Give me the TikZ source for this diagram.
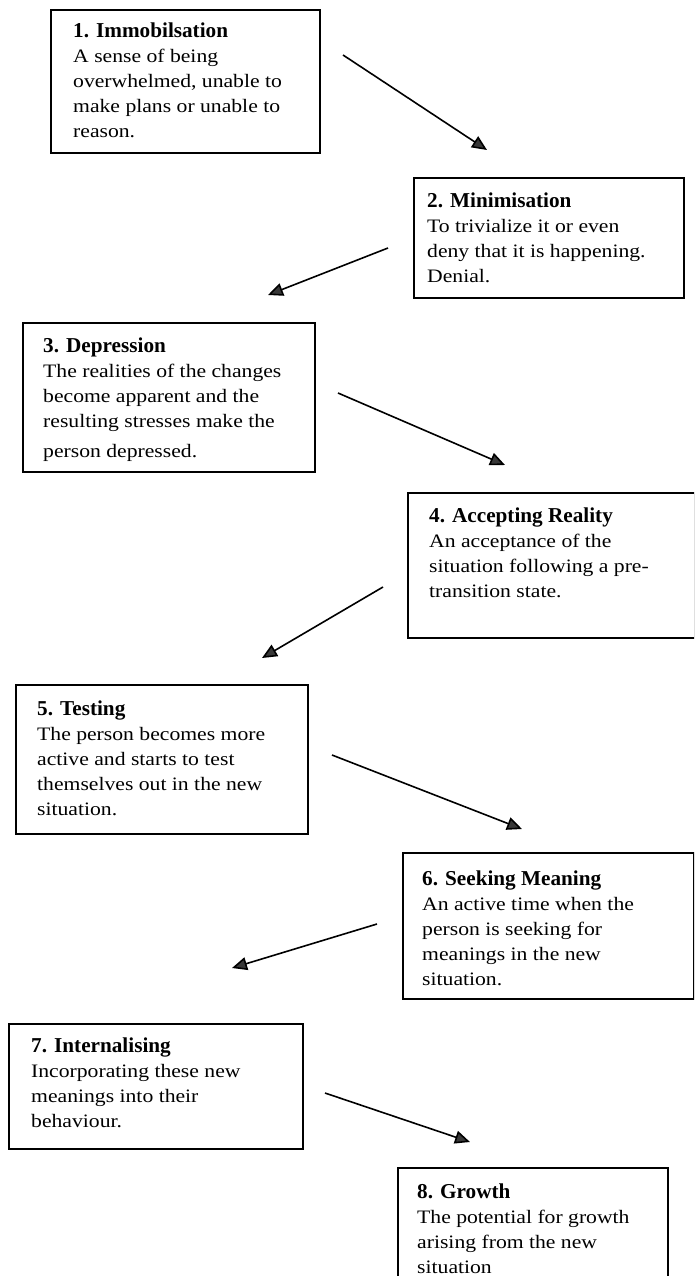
\documentclass[tikz,border=0pt]{standalone}
\usepackage{fontspec}
\setmainfont{Liberation Serif}
\newfontfamily\bodyfont[FakeStretch=1.14]{Liberation Serif}
\usetikzlibrary{arrows.meta}
\tikzset{
  stagebox/.style={draw=black, line width=1.6pt, inner sep=0pt, anchor=north west},
  stagetext/.style={anchor=north west, inner sep=0pt, align=left,
    font=\bodyfont\fontsize{19}{25}\selectfont},
  flow/.style={line width=1.6pt, draw=black,
    -{Triangle[length=15pt,width=13pt,fill=black!78]}},
}
\newcommand{\stagetitle}[1]{\rule{0pt}{20pt}{\normalfont\bfseries\fontsize{21.2}{25}\selectfont #1}}
\begin{document}
\begin{tikzpicture}[x=1pt,y=-1pt]
\useasboundingbox (0,0) rectangle (694,1276);
\clip (0,0) rectangle (694,1276);

% stage boxes
\node[stagebox, minimum width=269pt, minimum height=143pt] (b1) at (50,9) {};
\node[stagebox, minimum width=270pt, minimum height=120pt] (b2) at (413,177) {};
\node[stagebox, minimum width=292pt, minimum height=149pt] (b3) at (22,322) {};
\node[stagebox, minimum width=287pt, minimum height=145pt] (b4) at (407,492) {};
\node[stagebox, minimum width=292pt, minimum height=149pt] (b5) at (15,684) {};
\node[stagebox, minimum width=291pt, minimum height=146pt] (b6) at (402,852) {};
\node[stagebox, minimum width=294pt, minimum height=125pt] (b7) at (8,1023) {};
\node[stagebox, minimum width=270pt, minimum height=140pt] (b8) at (397,1167) {};

% stage texts (anchored 20pt above the first baseline)
\node[stagetext] (t1) at (73,17) {\stagetitle{1. Immobilsation}\\A sense of being\\overwhelmed, unable to\\make plans or unable to\\reason.};
\node[stagetext] (t2) at (427,187) {\stagetitle{2. Minimisation}\\To trivialize it or even\\deny that it is happening.\\Denial.};
\node[stagetext] (t3) at (43,332) {\stagetitle{3. Depression}\\The realities of the changes\\become apparent and the\\resulting stresses make the\\[5pt]person depressed.};
\node[stagetext] (t4) at (429,502) {\stagetitle{4. Accepting Reality}\\An acceptance of the\\situation following a pre-\\transition state.};
\node[stagetext] (t5) at (37,695) {\stagetitle{5. Testing}\\The person becomes more\\active and starts to test\\themselves out in the new\\situation.};
\node[stagetext] (t6) at (422,865) {\stagetitle{6. Seeking Meaning}\\An active time when the\\person is seeking for\\meanings in the new\\situation.};
\node[stagetext] (t7) at (31,1032) {\stagetitle{7. Internalising}\\Incorporating these new\\meanings into their\\behaviour.};
\node[stagetext] (t8) at (417,1178) {\stagetitle{8. Growth}\\The potential for growth\\arising from the new\\situation};

% arrow end points
\coordinate (a1s) at (343,55);   \coordinate (a1e) at (487,150);
\coordinate (a2s) at (388,248);  \coordinate (a2e) at (268,295);
\coordinate (a3s) at (338,393);  \coordinate (a3e) at (505,465);
\coordinate (a4s) at (383,587);  \coordinate (a4e) at (262,658);
\coordinate (a5s) at (332,755);  \coordinate (a5e) at (522,829);
\coordinate (a6s) at (377,924);  \coordinate (a6e) at (232,968);
\coordinate (a7s) at (325,1093); \coordinate (a7e) at (470,1142);

% connectors
\draw[flow] (a1s) -- (a1e);
\draw[flow] (a2s) -- (a2e);
\draw[flow] (a3s) -- (a3e);
\draw[flow] (a4s) -- (a4e);
\draw[flow] (a5s) -- (a5e);
\draw[flow] (a6s) -- (a6e);
\draw[flow] (a7s) -- (a7e);
\end{tikzpicture}
\end{document}
